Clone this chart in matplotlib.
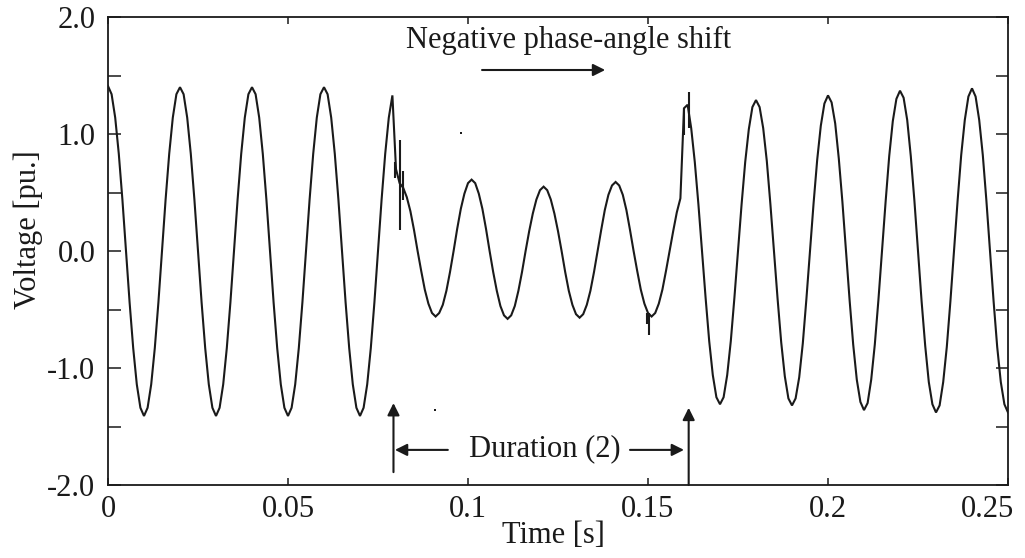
import numpy as np
import matplotlib
matplotlib.use("Agg")
import matplotlib.pyplot as plt
from matplotlib.transforms import ScaledTranslation

plt.rcParams['font.family'] = ['Liberation Serif', 'DejaVu Serif']

# ---- data (1 ms sampling, 0 ... 0.25 s) ----
time_s = np.arange(251) / 1000.0

pre_sag = [  # 0 - 79 ms
    1.41, 1.34, 1.14, 0.83, 0.44, 0.00, -0.44, -0.83, -1.14, -1.34,
    -1.41, -1.34, -1.14, -0.83, -0.44, 0.00, 0.44, 0.83, 1.14, 1.34,
    1.40, 1.34, 1.14, 0.83, 0.44, 0.00, -0.44, -0.83, -1.14, -1.34,
    -1.41, -1.34, -1.14, -0.83, -0.44, 0.00, 0.44, 0.83, 1.14, 1.34,
    1.40, 1.34, 1.14, 0.83, 0.44, 0.00, -0.44, -0.83, -1.14, -1.34,
    -1.41, -1.34, -1.14, -0.83, -0.44, 0.00, 0.44, 0.83, 1.14, 1.34,
    1.40, 1.34, 1.14, 0.83, 0.44, 0.00, -0.44, -0.83, -1.14, -1.34,
    -1.41, -1.34, -1.14, -0.83, -0.44, 0.00, 0.44, 0.83, 1.14, 1.33,
]
sag = [  # 80 - 159 ms
    0.70, 0.58, 0.54, 0.46, 0.34, 0.18, 0.00, -0.17, -0.33, -0.45,
    -0.53, -0.56, -0.53, -0.46, -0.34, -0.18, 0.00, 0.19, 0.36, 0.49,
    0.58, 0.61, 0.58, 0.49, 0.36, 0.19, 0.00, -0.18, -0.34, -0.47,
    -0.55, -0.58, -0.55, -0.47, -0.34, -0.18, 0.00, 0.17, 0.32, 0.44,
    0.52, 0.55, 0.52, 0.44, 0.32, 0.17, 0.00, -0.18, -0.34, -0.46,
    -0.54, -0.57, -0.54, -0.46, -0.34, -0.18, 0.00, 0.18, 0.35, 0.48,
    0.56, 0.59, 0.56, 0.48, 0.35, 0.18, 0.00, -0.17, -0.33, -0.45,
    -0.53, -0.56, -0.53, -0.45, -0.33, -0.17, 0.00, 0.17, 0.33, 0.45,
]
post_sag = [  # 160 - 250 ms
    1.22, 1.25, 1.05, 0.76, 0.40, 0.00, -0.40, -0.77, -1.06, -1.25,
    -1.31, -1.25, -1.06, -0.77, -0.40, 0.00, 0.40, 0.76, 1.04, 1.23,
    1.29, 1.23, 1.05, 0.77, 0.40, 0.00, -0.41, -0.78, -1.07, -1.26,
    -1.32, -1.26, -1.08, -0.79, -0.41, 0.00, 0.41, 0.78, 1.07, 1.26,
    1.33, 1.27, 1.09, 0.79, 0.42, 0.00, -0.42, -0.80, -1.10, -1.29,
    -1.36, -1.30, -1.10, -0.80, -0.42, 0.00, 0.42, 0.81, 1.11, 1.30,
    1.37, 1.31, 1.12, 0.81, 0.43, 0.00, -0.43, -0.81, -1.12, -1.31,
    -1.38, -1.32, -1.12, -0.82, -0.43, 0.00, 0.43, 0.82, 1.12, 1.32,
    1.39, 1.32, 1.12, 0.82, 0.43, 0.00, -0.43, -0.82, -1.12, -1.31,
    -1.38,
]
voltage = np.array(pre_sag + sag + post_sag)

# switching transients (narrow spikes)
spike_t = [0.0798, 0.0812, 0.0820, 0.1497, 0.1502, 0.1600, 0.1613]
spike_lo = [0.62, 0.18, 0.44, -0.62, -0.72, 0.99, 1.05]
spike_hi = [0.76, 0.95, 0.68, -0.53, -0.53, 1.22, 1.36]

# stray specks
speck_t = [0.0980, 0.0908]
speck_v = [1.01, -1.36]

x_ticks = [0, 0.05, 0.1, 0.15, 0.2, 0.25]
x_ticklabels = ['0', '0.05', '0.1', '0.15', '0.2', '0.25']
y_ticks = [2.0, 1.0, 0.0, -1.0, -2.0]
y_ticklabels = ['2.0', '1.0', '0.0', '-1.0', '-2.0']
y_minor = [1.5, 0.5, -0.5, -1.5]

sag_start, sag_end = 0.0793, 0.1613

# ---- figure ----
W, H = 1025, 558
FS = 22
fig = plt.figure(figsize=(W / 100, H / 100), dpi=100)
ax = fig.add_axes([108 / W, 1 - 485 / H, 900 / W, 468 / H])

col = '#1a1a1a'
ax.plot(time_s, voltage, color=col, lw=1.5, solid_joinstyle='miter')
ax.vlines(spike_t, spike_lo, spike_hi, color=col, lw=1.5)
ax.plot(speck_t, speck_v, 's', color=col, ms=1.6, mew=0)

ax.set_xlim(0, 0.25)
ax.set_ylim(-2.0, 2.0)

ax.set_xticks(x_ticks)
ax.set_xticklabels(x_ticklabels, fontsize=FS)
ax.set_yticks(y_ticks)
ax.set_yticklabels(y_ticklabels, fontsize=FS)
ax.set_yticks(y_minor, minor=True)

ax.tick_params(axis='x', which='major', direction='in', length=5, width=1.1,
               top=True, bottom=True, pad=7, colors=col)
ax.tick_params(axis='y', which='both', direction='in', length=9, width=1.1,
               left=True, right=True, pad=9, colors=col)
for s in ax.spines.values():
    s.set_linewidth(1.3)
    s.set_color(col)

# shift last x label left as in the reference
lbl = ax.get_xticklabels()[-1]
lbl.set_transform(lbl.get_transform() + ScaledTranslation(-0.2, 0, fig.dpi_scale_trans))

ax.set_xlabel('Time [s]', fontsize=FS, color=col, va='center')
ax.xaxis.set_label_coords(0.495, -0.108)
ax.set_ylabel('Voltage [pu.]', fontsize=FS, color=col, va='center')
ax.yaxis.set_label_coords(-0.089, 0.545)

arrow_kw = dict(arrowstyle='-|>', color=col, lw=1.5, mutation_scale=18,
                shrinkA=0, shrinkB=0)

# annotations
ax.text(0.1279, 1.795, 'Negative phase-angle shift', fontsize=FS,
        ha='center', va='center', color=col)
ax.annotate('', xy=(0.1381, 1.547), xytext=(0.1039, 1.547), arrowprops=arrow_kw)

ax.text(0.1214, -1.69, 'Duration (2)', fontsize=FS, ha='center', va='center',
        color=col)
# vertical arrows marking the sag start / end
ax.annotate('', xy=(sag_start, -1.30), xytext=(sag_start, -1.89), arrowprops=arrow_kw)
ax.annotate('', xy=(sag_end, -1.34), xytext=(sag_end, -2.0), arrowprops=arrow_kw)
# horizontal duration arrows
ax.annotate('', xy=(0.0797, -1.70), xytext=(0.0944, -1.70), arrowprops=arrow_kw)
ax.annotate('', xy=(0.1600, -1.70), xytext=(0.1450, -1.70), arrowprops=arrow_kw)

fig.savefig('out.png', dpi=100)
